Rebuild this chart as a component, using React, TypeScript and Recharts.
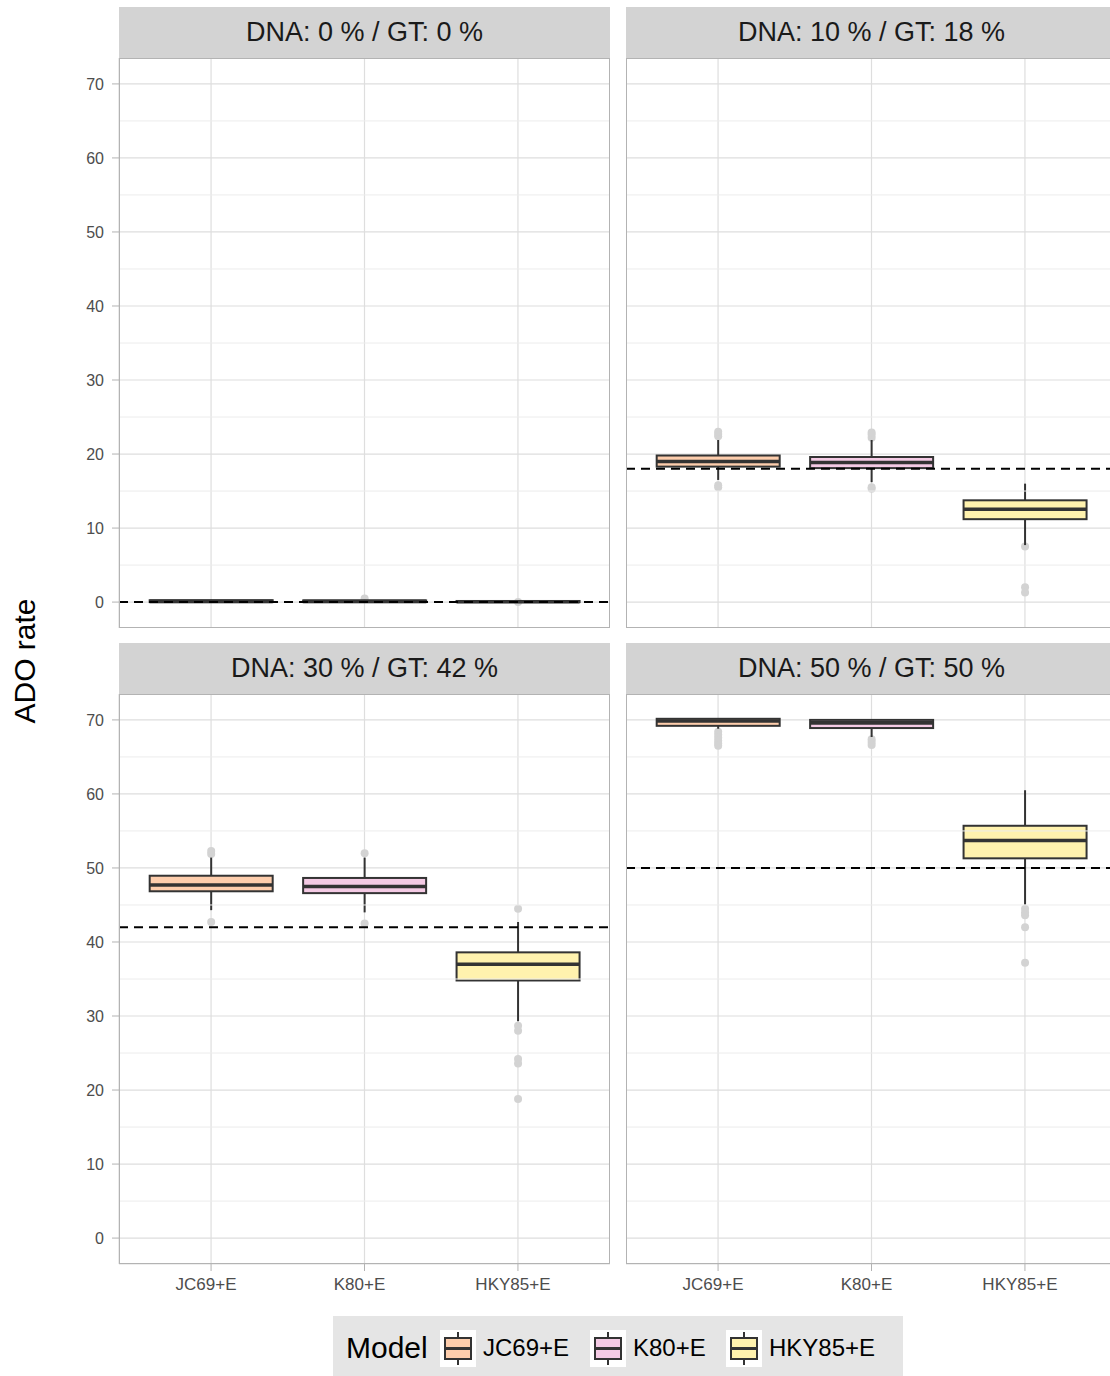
import { Bar, CartesianGrid, ComposedChart, ReferenceLine, XAxis, YAxis } from 'recharts';

const MODELS = ['JC69+E', 'K80+E', 'HKY85+E'];
const MODEL_FILL = ['#FDCDAC', '#F4CAE4', '#FFF2AE'];

const PANEL_TITLES = [
  'DNA: 0 % / GT: 0 %',
  'DNA: 10 % / GT: 18 %',
  'DNA: 30 % / GT: 42 %',
  'DNA: 50 % / GT: 50 %',
];
const TRUE_ADO = [0, 18, 42, 50];

const Y_TICKS = [0, 10, 20, 30, 40, 50, 60, 70];
const Y_MINOR = [5, 15, 25, 35, 45, 55, 65];
const Y_DOMAIN: [number, number] = [-3.5, 73.5];

// one row per panel, one value per model (JC69, K80, HKY85)
const WHISKER_LOW = [
  [0, 0, 0],
  [16.5, 16.2, 7.7],
  [44.3, 44.0, 29.3],
  [68.8, 67.7, 45.05],
];
const Q1 = [
  [0, 0, 0],
  [18.3, 18.1, 11.2],
  [46.85, 46.6, 34.8],
  [69.2, 68.9, 51.3],
];
const MEDIAN = [
  [0.1, 0.1, 0.05],
  [19.0, 18.85, 12.55],
  [47.7, 47.5, 37.0],
  [69.85, 69.6, 53.7],
];
const Q3 = [
  [0.25, 0.22, 0.15],
  [19.8, 19.6, 13.75],
  [48.95, 48.65, 38.6],
  [70.15, 70.0, 55.7],
];
const WHISKER_HIGH = [
  [0.3, 0.3, 0.2],
  [21.9, 21.9, 16.0],
  [51.4, 51.4, 42.7],
  [70.15, 70.0, 60.5],
];
const OUTLIERS = [
  [[], [0.5], [0]],
  [[22.4, 22.7, 23.0, 15.5, 15.8], [22.2, 22.6, 22.9, 15.3, 15.5], [7.5, 2.0, 1.3]],
  [[51.9, 52.3, 42.7], [52.0, 42.5], [44.5, 28.7, 28.0, 24.2, 23.6, 18.8]],
  [[68.4, 68.0, 67.6, 67.2, 66.8, 66.5], [67.4, 67.0, 66.6], [44.5, 44.0, 43.6, 42.0, 37.2]],
];

const FONT = '"Liberation Sans", Arial, Helvetica, sans-serif';
const TEXT_GRAY = '#4d4d4d';
const BORDER = '#b3b3b3';
const BOX_LINE = '#333333';

interface Row {
  model: string;
  span: [number, number];
  lo: number;
  q1: number;
  med: number;
  q3: number;
  hi: number;
  out: number[];
  fill: string;
}

const BoxShape = (props: any) => {
  const { x, y, width, height, payload } = props;
  const d = payload as Row;
  const top = Math.min(y, y + height);
  const h = Math.abs(height);
  // span covers the whole y domain, so interpolate inside it
  const py = (v: number) => top + (h * (Y_DOMAIN[1] - v)) / (Y_DOMAIN[1] - Y_DOMAIN[0]);
  const cx = x + width / 2;
  return (
    <g>
      {d.out.map((v, i) => (
        <circle key={i} cx={cx} cy={py(v)} r={4} fill="#d3d3d3" />
      ))}
      <line x1={cx} x2={cx} y1={py(d.hi)} y2={py(d.q3)} stroke={BOX_LINE} strokeWidth={2} />
      <line x1={cx} x2={cx} y1={py(d.q1)} y2={py(d.lo)} stroke={BOX_LINE} strokeWidth={2} />
      <rect
        x={x}
        y={py(d.q3)}
        width={width}
        height={Math.max(py(d.q1) - py(d.q3), 0)}
        fill={d.fill}
        stroke={BOX_LINE}
        strokeWidth={2}
      />
      <line x1={x} x2={x + width} y1={py(d.med)} y2={py(d.med)} stroke={BOX_LINE} strokeWidth={3.6} />
    </g>
  );
};

interface PanelProps {
  idx: number;
  left: number;
  top: number;
  plotWidth: number;
  plotHeight: number;
  showY: boolean;
  showX: boolean;
}

const Panel = ({ idx, left, top, plotWidth, plotHeight, showY, showX }: PanelProps) => {
  const rows: Row[] = MODELS.map((m, j) => ({
    model: m,
    span: Y_DOMAIN,
    lo: WHISKER_LOW[idx][j],
    q1: Q1[idx][j],
    med: MEDIAN[idx][j],
    q3: Q3[idx][j],
    hi: WHISKER_HIGH[idx][j],
    out: OUTLIERS[idx][j],
    fill: MODEL_FILL[j],
  }));
  const yW = showY ? 60 : 0;
  const pad = plotWidth * 0.03125;
  return (
    <>
      <div
        style={{
          position: 'absolute',
          left,
          top: top - 51,
          width: plotWidth,
          height: 51,
          background: '#d3d3d3',
          color: '#1a1a1a',
          fontFamily: FONT,
          fontSize: 27,
          lineHeight: '51px',
          textAlign: 'center',
        }}
      >
        {PANEL_TITLES[idx]}
      </div>
      <div style={{ position: 'absolute', left: left - yW, top }}>
        <ComposedChart
          width={plotWidth + yW}
          height={plotHeight + (showX ? 40 : 0)}
          data={rows}
          margin={{ top: 0, right: 0, bottom: 0, left: 0 }}
          barCategoryGap="10%"
        >
          <CartesianGrid stroke="#dedede" strokeWidth={1.2} />
          {Y_MINOR.map((v) => (
            <ReferenceLine key={v} y={v} stroke="#ececec" strokeWidth={1} />
          ))}
          <XAxis
            dataKey="model"
            type="category"
            hide={!showX}
            height={40}
            padding={{ left: pad, right: pad }}
            interval={0}
            axisLine={false}
            tickLine={{ stroke: BORDER }}
            tickSize={7}
            tickMargin={7}
            tick={{ fill: TEXT_GRAY, fontSize: 17, fontFamily: FONT, dx: -5 }}
          />
          <YAxis
            type="number"
            domain={Y_DOMAIN}
            allowDataOverflow
            ticks={Y_TICKS}
            hide={!showY}
            width={60}
            axisLine={false}
            tickLine={{ stroke: BORDER }}
            tickSize={7}
            tickMargin={8}
            tick={{ fill: TEXT_GRAY, fontSize: 16, fontFamily: FONT }}
          />
          <Bar dataKey="span" shape={BoxShape} isAnimationActive={false} />
          <ReferenceLine y={TRUE_ADO[idx]} stroke="#000" strokeWidth={2} strokeDasharray="9 6" />
        </ComposedChart>
      </div>
      <div
        style={{
          position: 'absolute',
          left,
          top,
          width: plotWidth,
          height: plotHeight,
          boxSizing: 'border-box',
          border: `1.5px solid ${BORDER}`,
          pointerEvents: 'none',
        }}
      />
    </>
  );
};

const LegendKey = ({ fill }: { fill: string }) => (
  <svg width={36} height={37}>
    <rect x={0} y={0} width={36} height={37} fill="#fff" />
    <line x1={18} x2={18} y1={2} y2={35} stroke={BOX_LINE} strokeWidth={2} />
    <rect x={5} y={8} width={26} height={21} fill={fill} stroke={BOX_LINE} strokeWidth={2} />
    <line x1={5} x2={31} y1={18.5} y2={18.5} stroke={BOX_LINE} strokeWidth={3} />
  </svg>
);

const LEGEND_KEY_X = [440, 590, 726];

export default function App() {
  return (
    <div
      style={{
        position: 'absolute',
        left: 0,
        top: 0,
        width: 1110,
        height: 1376,
        overflow: 'hidden',
        background: '#fff',
        fontFamily: FONT,
      }}
    >
      <Panel idx={0} left={119} top={58} plotWidth={491} plotHeight={570} showY showX={false} />
      <Panel idx={1} left={626} top={58} plotWidth={491} plotHeight={570} showY={false} showX={false} />
      <Panel idx={2} left={119} top={694} plotWidth={491} plotHeight={570} showY showX />
      <Panel idx={3} left={626} top={694} plotWidth={491} plotHeight={570} showY={false} showX />

      <svg style={{ position: 'absolute', left: 0, top: 560 }} width={50} height={200}>
        <text
          transform="translate(35,101) rotate(-90)"
          textAnchor="middle"
          fontSize={30}
          fontFamily={FONT}
          fill="#000"
        >
          ADO rate
        </text>
      </svg>

      <div style={{ position: 'absolute', left: 333, top: 1316, width: 570, height: 60, background: '#e5e5e5' }}>
        <div style={{ position: 'absolute', left: 13, top: 0, lineHeight: '64px', fontSize: 30, color: '#000' }}>
          Model
        </div>
        {MODELS.map((m, j) => (
          <div key={m}>
            <div style={{ position: 'absolute', left: LEGEND_KEY_X[j] - 333, top: 14 }}>
              <LegendKey fill={MODEL_FILL[j]} />
            </div>
            <div
              style={{
                position: 'absolute',
                left: LEGEND_KEY_X[j] - 333 + 43,
                top: 0,
                lineHeight: '64px',
                fontSize: 24,
                color: '#000',
              }}
            >
              {m}
            </div>
          </div>
        ))}
      </div>
    </div>
  );
}
